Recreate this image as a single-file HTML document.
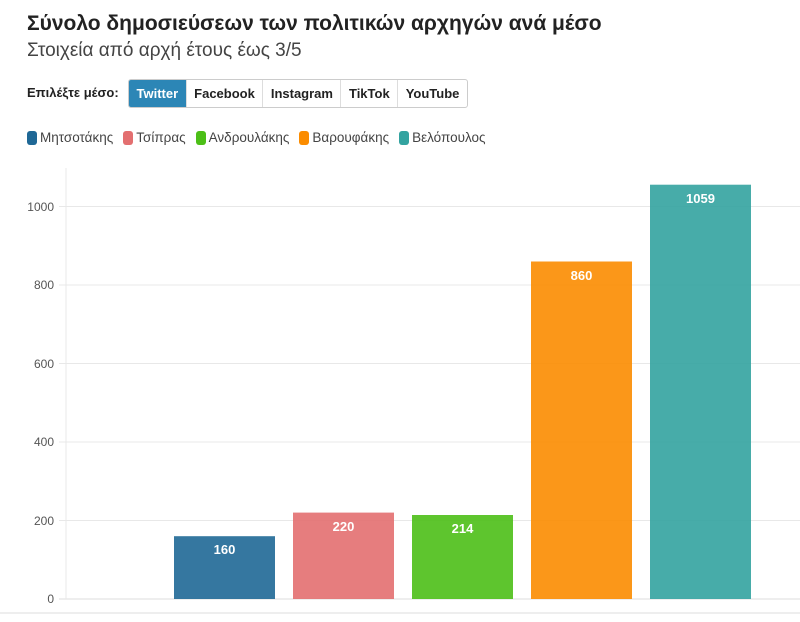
<!DOCTYPE html>
<html><head><meta charset="utf-8"><style>
body{margin:0;width:800px;height:622px;background:#fff;font-family:"Liberation Sans","DejaVu Sans",sans-serif;position:relative;overflow:hidden;color:#222}
.t{position:absolute;left:27px;top:12px;font-size:21px;font-weight:bold;color:#222}
.s{position:absolute;left:27px;top:40px;font-size:19px;color:#444}
.lab{position:absolute;left:27px;top:85px;font-size:13px;font-weight:bold;color:#222}
.btns{position:absolute;left:128px;top:79px;height:27px;display:flex;border:1px solid #ccc;border-radius:3px;overflow:hidden}
.btns div{padding:0 7.5px;line-height:27px;font-size:13px;font-weight:bold;border-right:1px solid #ddd;color:#222}
.btns div:last-child{border-right:none}
.btns .on{background:#2c86b6;color:#fff}
.leg{position:absolute;top:130px;left:27px;font-size:13.5px;color:#444;display:flex;gap:10px}
.leg span{display:inline-flex;align-items:center}
.leg i{display:inline-block;width:10px;height:14px;border-radius:3px;margin-right:3px}
</style></head><body>
<div class="t">Σύνολο δημοσιεύσεων των πολιτικών αρχηγών ανά μέσο</div>
<div class="s">Στοιχεία από αρχή έτους έως 3/5</div>
<div class="lab">Επιλέξτε μέσο:</div>
<div class="btns"><div class="on">Twitter</div><div>Facebook</div><div>Instagram</div><div>TikTok</div><div>YouTube</div></div>
<div class="leg"><span><i style="background:#1f6896"></i>Μητσοτάκης</span><span><i style="background:#e36f70"></i>Τσίπρας</span><span><i style="background:#4cbf17"></i>Ανδρουλάκης</span><span><i style="background:#fb8c00"></i>Βαρουφάκης</span><span><i style="background:#33a3a0"></i>Βελόπουλος</span></div>
<svg width="800" height="622" style="position:absolute;left:0;top:0" font-family="Liberation Sans, sans-serif">
<g stroke="#e8e8e8" stroke-width="1">
<line x1="59" x2="800" y1="206.5" y2="206.5"/><line x1="59" x2="800" y1="285" y2="285"/><line x1="59" x2="800" y1="363.5" y2="363.5"/><line x1="59" x2="800" y1="442" y2="442"/><line x1="59" x2="800" y1="520.5" y2="520.5"/>
<line x1="59" x2="800" y1="599" y2="599" stroke="#ddd"/>
<line x1="66" x2="66" y1="168" y2="599"/>
<line x1="0" x2="800" y1="613" y2="613" stroke="#ddd"/>
</g>
<g font-size="12" fill="#555" text-anchor="end">
<text x="54" y="211">1000</text><text x="54" y="289">800</text><text x="54" y="368">600</text><text x="54" y="446">400</text><text x="54" y="525">200</text><text x="54" y="603">0</text>
</g>
<rect x="174" y="536.2" width="101" height="62.8" fill="#1f6896" opacity=".9"/>
<rect x="293" y="512.6" width="101" height="86.4" fill="#e36f70" opacity=".9"/>
<rect x="412" y="515" width="101" height="84" fill="#4cbf17" opacity=".9"/>
<rect x="531" y="261.5" width="101" height="337.5" fill="#fb8c00" opacity=".9"/>
<rect x="650" y="184.7" width="101" height="414.3" fill="#33a3a0" opacity=".9"/>
<g font-size="13" font-weight="bold" fill="#fff" text-anchor="middle">
<text x="224.5" y="554">160</text><text x="343.5" y="531">220</text><text x="462.5" y="533">214</text><text x="581.5" y="280">860</text><text x="700.5" y="203">1059</text>
</g>
</svg>
</body></html>
